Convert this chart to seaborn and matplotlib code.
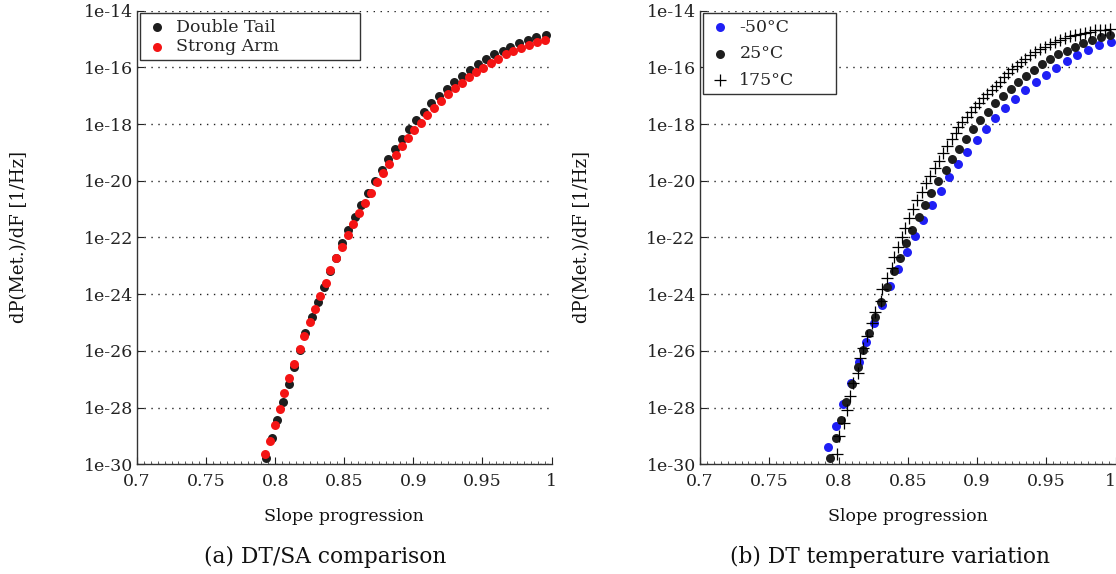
import matplotlib
matplotlib.use("Agg")
import matplotlib.pyplot as plt
import seaborn as sns
import numpy as np
import pandas as pd
from matplotlib.ticker import FixedLocator, MultipleLocator, NullLocator

# DATA (x = slope progression, y = log10 of dP/dF)
dt_x = [0.7936, 0.7979, 0.8015, 0.8056, 0.8099, 0.8138, 0.8178, 0.8217, 0.8265, 0.8308,
        0.8351, 0.8400, 0.8443, 0.8484, 0.8530, 0.8580, 0.8623, 0.8669, 0.8719, 0.8773,
        0.8820, 0.8869, 0.8921, 0.8972, 0.9020, 0.9078, 0.9128, 0.9184, 0.9242, 0.9294,
        0.9350, 0.9410, 0.9465, 0.9525, 0.9583, 0.9646, 0.9703, 0.9766, 0.9830, 0.9891, 0.9958]
dt_log = [-29.79, -29.08, -28.44, -27.79, -27.17, -26.56, -25.97, -25.38, -24.79, -24.26,
          -23.73, -23.17, -22.71, -22.20, -21.74, -21.29, -20.84, -20.42, -20.01, -19.62,
          -19.24, -18.88, -18.53, -18.18, -17.86, -17.56, -17.27, -17.01, -16.77, -16.51,
          -16.30, -16.09, -15.89, -15.71, -15.54, -15.41, -15.27, -15.15, -15.03, -14.94, -14.86]

sa_x = [0.7924, 0.7960, 0.7996, 0.8032, 0.8066, 0.8102, 0.8135, 0.8178, 0.8212, 0.8251,
        0.8287, 0.8325, 0.8366, 0.8400, 0.8443, 0.8484, 0.8525, 0.8566, 0.8607, 0.8652,
        0.8694, 0.8737, 0.8780, 0.8826, 0.8871, 0.8915, 0.8961, 0.9006, 0.9054, 0.9098,
        0.9150, 0.9201, 0.9254, 0.9302, 0.9350, 0.9403, 0.9453, 0.9506, 0.9559, 0.9614,
        0.9669, 0.9722, 0.9777, 0.9835, 0.9895, 0.9955]
sa_log = [-29.64, -29.17, -28.61, -28.05, -27.50, -26.97, -26.46, -25.94, -25.46, -24.98,
          -24.51, -24.05, -23.59, -23.16, -22.71, -22.32, -21.92, -21.52, -21.15, -20.77,
          -20.42, -20.04, -19.71, -19.41, -19.09, -18.77, -18.48, -18.21, -17.95, -17.68,
          -17.42, -17.19, -16.95, -16.74, -16.54, -16.35, -16.17, -16.01, -15.84, -15.69,
          -15.54, -15.42, -15.31, -15.21, -15.11, -15.03]

m50_x = [0.7926, 0.7979, 0.8032, 0.8092, 0.8145, 0.8200, 0.8256, 0.8311, 0.8371, 0.8431,
         0.8492, 0.8552, 0.8612, 0.8677, 0.8737, 0.8799, 0.8864, 0.8929, 0.8997, 0.9064,
         0.9131, 0.9204, 0.9276, 0.9348, 0.9423, 0.9497, 0.9569, 0.9646, 0.9723, 0.9802,
         0.9882, 0.9964]
m50_log = [-29.40, -28.66, -27.88, -27.14, -26.40, -25.70, -25.02, -24.37, -23.72, -23.10,
           -22.51, -21.95, -21.38, -20.85, -20.36, -19.86, -19.41, -18.98, -18.56, -18.16,
           -17.78, -17.44, -17.11, -16.80, -16.51, -16.26, -16.01, -15.78, -15.57, -15.40,
           -15.23, -15.09]

t25_x = dt_x
t25_log = dt_log

t175_x = [0.7986, 0.8006, 0.8039, 0.8063, 0.8083, 0.8107, 0.8143, 0.8155, 0.8174, 0.8203,
          0.8239, 0.8263, 0.8306, 0.8311, 0.8347, 0.8383, 0.8400, 0.8431, 0.8456, 0.8480,
          0.8511, 0.8540, 0.8568, 0.8600, 0.8631, 0.8660, 0.8696, 0.8725, 0.8756, 0.8785,
          0.8817, 0.8848, 0.8864, 0.8893, 0.8924, 0.8953, 0.8984, 0.9013, 0.9045, 0.9073,
          0.9105, 0.9134, 0.9165, 0.9196, 0.9225, 0.9254, 0.9286, 0.9317, 0.9346, 0.9382,
          0.9418, 0.9454, 0.9490, 0.9526, 0.9562, 0.9598, 0.9634, 0.9670, 0.9706, 0.9742,
          0.9778, 0.9814, 0.9850, 0.9887, 0.9923, 0.9959]
t175_log = [-29.64, -29.00, -28.53, -28.08, -27.58, -27.14, -26.77, -26.26, -25.91, -25.47,
            -25.03, -24.62, -24.23, -23.83, -23.44, -23.09, -22.70, -22.35, -21.99, -21.68,
            -21.32, -21.01, -20.68, -20.38, -20.09, -19.83, -19.56, -19.30, -19.03, -18.77,
            -18.54, -18.30, -18.09, -17.92, -17.74, -17.56, -17.41, -17.25, -17.09, -16.94,
            -16.80, -16.66, -16.50, -16.35, -16.21, -16.07, -15.94, -15.82, -15.69, -15.57,
            -15.46, -15.36, -15.27, -15.17, -15.10, -15.03, -14.96, -14.90, -14.85, -14.81,
            -14.78, -14.74, -14.70, -14.68, -14.67, -14.66]

x_ticks = [0.7, 0.75, 0.8, 0.85, 0.9, 0.95, 1.0]
x_labels = ["0.7", "0.75", "0.8", "0.85", "0.9", "0.95", "1"]
y_exps = [-30, -28, -26, -24, -22, -20, -18, -16, -14]
y_labels = ["1e%d" % e for e in y_exps]
captions = ["(a) DT/SA comparison", "(b) DT temperature variation"]

sns.set_theme(style="white")
plt.rcParams["font.family"] = ["DejaVu Serif"]

fig = plt.figure(figsize=(11.16, 5.74), dpi=100)
ax1 = fig.add_axes([0.1228, 0.1911, 0.3714, 0.7904])
ax2 = fig.add_axes([0.6272, 0.1911, 0.3725, 0.7904])


def to_df(x, logs):
    return pd.DataFrame({"x": x, "y": np.power(10.0, logs)})


sns.scatterplot(data=to_df(dt_x, dt_log), x="x", y="y", ax=ax1, color="#1e1e1e",
                s=42, linewidth=0, label="Double Tail", zorder=3)
sns.scatterplot(data=to_df(sa_x, sa_log), x="x", y="y", ax=ax1, color="#f41414",
                s=42, linewidth=0, label="Strong Arm", zorder=4)

sns.scatterplot(data=to_df(m50_x, m50_log), x="x", y="y", ax=ax2, color="#1f1ff5",
                s=42, linewidth=0, label="-50°C", zorder=3)
sns.scatterplot(data=to_df(t25_x, t25_log), x="x", y="y", ax=ax2, color="#1e1e1e",
                s=42, linewidth=0, label="25°C", zorder=4)
sns.scatterplot(data=to_df(t175_x, t175_log), x="x", y="y", ax=ax2, color="black",
                marker="+", s=70, linewidth=0.9, label="175°C", zorder=5)

for ax in [ax1, ax2]:
    ax.set_yscale("log")
    ax.set_xlim(0.7, 1.0)
    ax.set_ylim(1e-30, 1e-14)
    ax.xaxis.set_major_locator(FixedLocator(x_ticks))
    ax.set_xticklabels(x_labels)
    ax.xaxis.set_minor_locator(MultipleLocator(0.005))
    ax.yaxis.set_major_locator(FixedLocator([10.0 ** e for e in y_exps]))
    ax.yaxis.set_minor_locator(NullLocator())
    ax.set_yticklabels(y_labels)
    ax.tick_params(axis="both", which="major", direction="in", length=5, width=0.8,
                   labelsize=12.5, colors="#222222", pad=3,
                   bottom=True, left=True, top=False, right=False)
    ax.tick_params(axis="x", which="minor", direction="in", length=2, width=0.6,
                   bottom=True, top=False, colors="#444444")
    ax.tick_params(axis="x", which="major", pad=6)
    for side in ["top", "right"]:
        ax.spines[side].set_visible(False)
    for side in ["left", "bottom"]:
        ax.spines[side].set_color("#333333")
        ax.spines[side].set_linewidth(1.0)
    ax.grid(False)
    ax.yaxis.grid(True, which="major", linestyle=(0, (1, 4)), color="#222222", linewidth=1.0)
    ax.set_axisbelow(True)
    ax.set_xlabel("Slope progression", fontsize=12.5, color="#111111", labelpad=13)
    ax.set_ylabel("dP(Met.)/dF [1/Hz]", fontsize=13, color="#111111", labelpad=40)

# the "1" at the right figure edge would be clipped otherwise
ax2.get_xticklabels()[-1].set_horizontalalignment("right")

leg_widths = [0.53, 0.32]
leg_spacing = [0.15, 0.55]
for ax, w, sp in zip([ax1, ax2], leg_widths, leg_spacing):
    leg = ax.legend(loc="upper left", bbox_to_anchor=(0.007, 0.994, w, 0), mode="expand",
                    fontsize=12.5, frameon=True, fancybox=False, borderpad=0.3,
                    handletextpad=0.4, labelspacing=sp, handlelength=1.4, borderaxespad=0.0)
    leg.get_frame().set_edgecolor("#333333")
    leg.get_frame().set_linewidth(1.0)
    leg.get_frame().set_alpha(1.0)

fig.text(325.5 / 1116, 1 - 556.7 / 574, captions[0], ha="center", va="center",
         fontsize=15.7, color="#111111")
fig.text(890 / 1116, 1 - 556.7 / 574, captions[1], ha="center", va="center",
         fontsize=15.7, color="#111111")

fig.savefig("out.png", dpi=100)
